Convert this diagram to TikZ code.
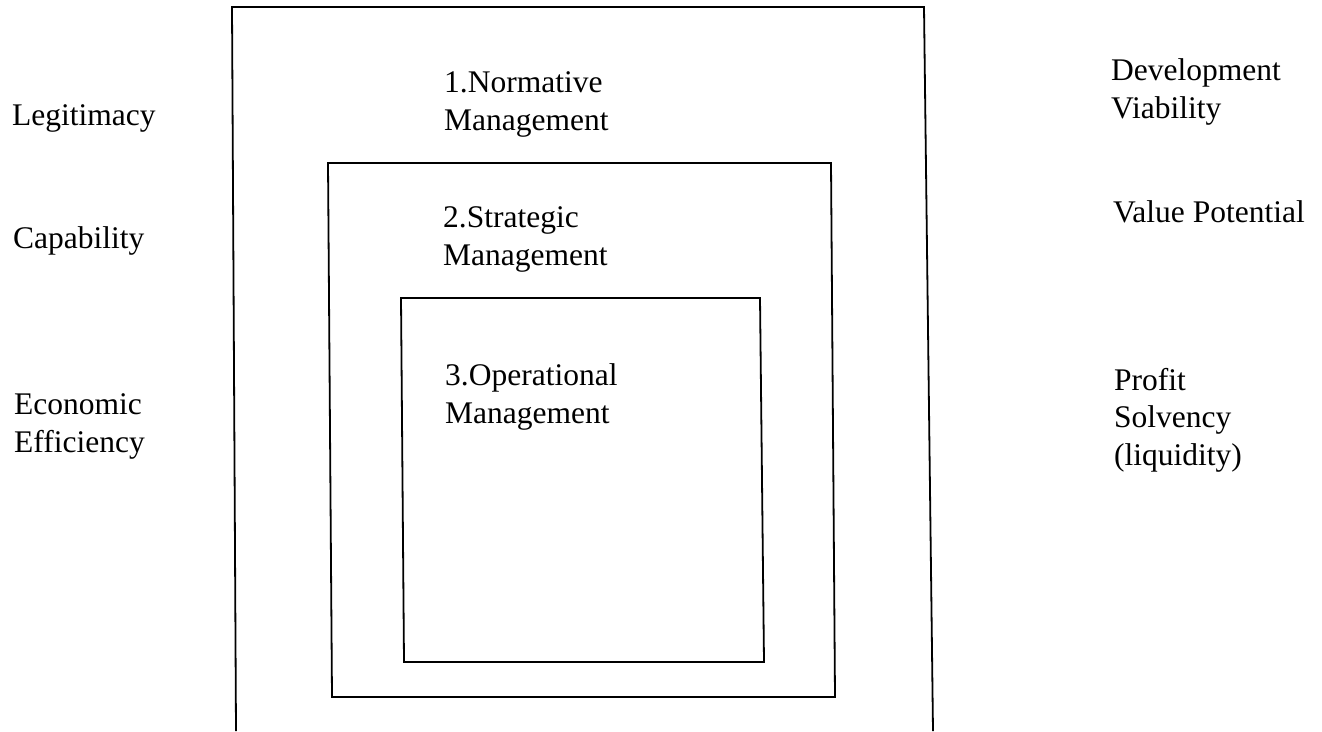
\documentclass[tikz,border=0pt]{standalone}
\usepackage{fontspec}
\setmainfont{Liberation Serif}
\begin{document}
\begin{tikzpicture}[x=1pt,y=-1pt,
  frame/.style={draw=black,line width=1.8pt,line join=miter},
  label/.style={anchor=base west,inner sep=0pt,align=left,
    font=\fontsize{31.5}{37.5}\selectfont}]
\useasboundingbox (0,0) rectangle (1322,731);
\fill[white] (0,0) rectangle (1322,731);
% nested management levels (slightly tilted, as hand-ruled frames)
\draw[frame] (236,731) -- (232,7) -- (924,7) -- (933,731);
\draw[frame] (328,163) -- (831,163) -- (835,697) -- (332,697) -- cycle;
\draw[frame] (401,298) -- (760,298) -- (764,662) -- (404,662) -- cycle;
% multi-line labels are placed by their last baseline
\node[label] (norm) at (444,130) {1.Normative\\Management};
\node[label] (strat) at (443,265) {2.Strategic\\Management};
\node[label] (oper) at (445,423) {3.Operational\\Management};
% criteria on the left
\node[label] (legit) at (12,125) {Legitimacy};
\node[label] (capab) at (13,248) {Capability};
\node[label] (econ) at (14,452) {Economic\\Efficiency};
% goals on the right
\node[label] (devel) at (1111,118) {Development\\Viability};
\node[label] (value) at (1113,222) {Value Potential};
\node[label] (profit) at (1114,465) {Profit\\Solvency\\(liquidity)};
\end{tikzpicture}
\end{document}
